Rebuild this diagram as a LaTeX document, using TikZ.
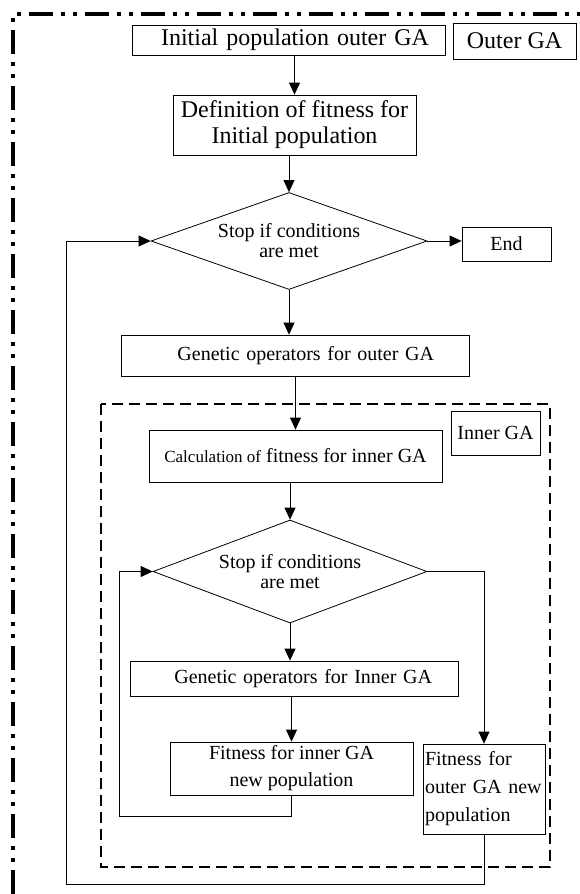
\documentclass[tikz,border=0pt]{standalone}
\usepackage{fontspec}
\setmainfont{Liberation Serif}
\usetikzlibrary{positioning,shapes.geometric,arrows.meta}

\tikzset{
  box/.style={draw, line width=0.8pt, inner sep=0pt, align=center, font=\fontsize{20}{24}\selectfont},
  decision/.style={draw, diamond, line width=0.8pt, inner sep=0pt, shape aspect=2.8, align=center, font=\fontsize{20}{20}\selectfont},
  arr/.style={line width=0.8pt, -{Triangle[length=12pt,width=11pt]}},
  innerframe/.style={line width=2.8pt, dash pattern=on 11pt off 6pt},
  outerframe/.style={line width=4pt, dash pattern=on 24pt off 8pt on 4pt off 8pt on 4pt off 8pt},
}

\begin{document}
\begin{tikzpicture}[x=1pt,y=-1pt]
\useasboundingbox (0,0) rectangle (580,894);

% Outer GA frame (cut by the page on the right and at the bottom)
\draw[outerframe] (13,894) -- (13,14) -- (580,14);

% Inner GA frame
\draw[innerframe] (101,404) rectangle (550,867);

% Outer GA
\node[box, minimum height=30pt, text width=281pt, inner xsep=16pt, align=right, font=\fontsize{24}{28}\selectfont] (init) at (288.5,40) {Initial population outer GA};
\node[box, minimum width=123pt, minimum height=36pt, font=\fontsize{24}{28}\selectfont] (outerlbl) at (514.5,41) {Outer GA};
\node[box, minimum width=243pt, minimum height=60pt, font=\fontsize{24}{26}\selectfont] (fitdef) at (294.5,125) {Definition of fitness for\\Initial population};
\node[decision, minimum width=276pt, minimum height=97pt] (stopouter) at (289,241) {Stop if conditions\\are met};
\node[box, minimum width=89pt, minimum height=34pt] (endbox) at (506.5,244) {End};
\node[box, minimum height=41pt, text width=278pt, inner xsep=35pt, align=right] (genouter) at (295,355.5) {Genetic operators for outer GA};

% Inner GA
\node[box, minimum width=89pt, minimum height=44pt] (innerlbl) at (495.5,433) {Inner GA};
\node[box, minimum width=293pt, minimum height=52pt] (calcinner) at (295.5,456) {{\fontsize{17}{20}\selectfont Calculation of} fitness for inner GA};
\node[decision, minimum width=274pt, minimum height=103pt] (stopinner) at (290,571.5) {Stop if conditions\\are met};
\node[box, minimum height=35pt, text width=276pt, inner xsep=26pt, align=right] (geninner) at (294,678.5) {Genetic operators for Inner GA};
\node[box, minimum width=243pt, minimum height=53pt, font=\fontsize{20}{27}\selectfont] (fitinner) at (291.5,768.5) {Fitness for inner GA\\new population};
\node[box, minimum height=90pt, text width=118pt, inner xsep=2pt, align=left, font=\fontsize{20}{28}\selectfont] (fitouter) at (484,789) {Fitness for\\outer GA new\\population};

% Loop corners
\coordinate (innerloop) at (119,816);
\coordinate (outerloop) at (66,884);

% Connectors
\draw[arr] (fitdef.north |- init.south) -- (fitdef.north);
\draw[arr] (stopouter.north |- fitdef.south) -- (stopouter.north);
\draw[arr] (stopouter.east) -- (stopouter.east -| endbox.west);
\draw[arr] (stopouter.south) -- (stopouter.south |- genouter.north);
\draw[arr] (calcinner.north |- genouter.south) -- (calcinner.north);
\draw[arr] (stopinner.north |- calcinner.south) -- (stopinner.north);
\draw[arr] (stopinner.south) -- (stopinner.south |- geninner.north);
\draw[arr] (fitinner.north |- geninner.south) -- (fitinner.north);
\draw[arr] (stopinner.east) -| (fitouter.north);
\draw[arr] (fitinner.south) |- (innerloop) |- (stopinner.west);
\draw[arr] (fitouter.south) |- (outerloop) |- (stopouter.west);

\end{tikzpicture}
\end{document}
